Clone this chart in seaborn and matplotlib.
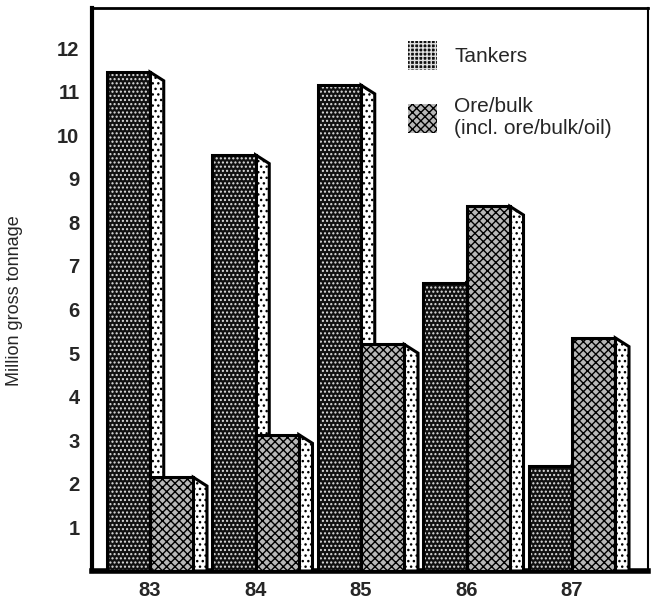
import matplotlib
matplotlib.use("Agg")
import matplotlib.pyplot as plt
import seaborn as sns
import pandas as pd
from matplotlib.patches import Polygon, Rectangle, Patch

years = ["83", "84", "85", "86", "87"]
tankers = [11.45, 9.55, 11.15, 6.6, 2.4]
ore_bulk = [2.15, 3.13, 5.2, 8.37, 5.35]
series_names = ["Tankers", "Ore/bulk\n(incl. ore/bulk/oil)"]
yticks = list(range(1, 13))

sns.set_style("white")
plt.rcParams["font.family"] = ["Liberation Sans", "DejaVu Sans"]
plt.rcParams["hatch.linewidth"] = 1.0

df = pd.DataFrame({
    "year": years * 2,
    "value": tankers + ore_bulk,
    "series": [series_names[0]] * 5 + [series_names[1]] * 5,
})

fig = plt.figure(figsize=(6.51, 6.03), dpi=100)
ax = fig.add_axes([92 / 651, 32 / 603, 556 / 651, 563 / 603])

sns.barplot(data=df, x="year", y="value", hue="series", hue_order=series_names,
            order=years, width=0.82, gap=0, ax=ax, legend=False,
            palette=["#111111", "#b0b0b0"], saturation=1)

styles = {
    0: dict(face="#111111", hatch="....", hcol="#e0e0e0"),
    1: dict(face="#b8b8b8", hatch="xxxx", hcol="black"),
}
side_style = dict(face="#ffffff", hatch="...", hcol="black")

depth = 0.13
drop = 0.2
patches = list(ax.patches)
n = len(years)
for i, p in enumerate(patches):
    s = 0 if i < n else 1
    x0 = p.get_x()
    w = p.get_width()
    h = p.get_height()
    st = styles[s]
    z_front = 3 if s == 0 else 5
    p.set_facecolor(st["face"])
    p.set_edgecolor(st["hcol"])
    p.set_hatch(st["hatch"])
    p.set_linewidth(0)
    p.set_zorder(z_front)
    ax.add_patch(Rectangle((x0, 0), w, h, fill=False, edgecolor="black",
                           linewidth=2.2, zorder=z_front + 0.1))
    x1 = x0 + w
    pts = [(x1, 0), (x1, h), (x1 + depth, h - drop), (x1 + depth, 0)]
    ax.add_patch(Polygon(pts, closed=True, facecolor=side_style["face"],
                         edgecolor=side_style["hcol"], hatch=side_style["hatch"],
                         linewidth=0, zorder=z_front - 1))
    ax.add_patch(Polygon(pts, closed=True, fill=False, edgecolor="black",
                         linewidth=2.2, zorder=z_front - 0.9))

ax.set_xlim(-0.55, 4.72)
ax.set_ylim(0, 12.92)
ax.set_yticks(yticks)
ax.set_yticklabels([str(t) for t in yticks])
ax.set_xlabel("")
ax.set_ylabel("Million gross tonnage", fontsize=13)
ax.yaxis.set_label_coords(-0.124, 0.48)
ax.tick_params(axis="y", direction="in", length=8, width=1.6, labelsize=14.5, pad=9)
ax.tick_params(axis="x", length=0, labelsize=14.5, pad=7)
for lab in ax.get_yticklabels() + ax.get_xticklabels():
    lab.set_fontweight("bold")

for side, lw in [("left", 3), ("bottom", 4), ("top", 2), ("right", 1.5)]:
    ax.spines[side].set_visible(True)
    ax.spines[side].set_linewidth(lw)
    ax.spines[side].set_color("black")

handles = [
    Patch(facecolor="#111111", edgecolor="#e0e0e0", hatch="++++", linewidth=0),
    Patch(facecolor="#b8b8b8", edgecolor="black", hatch="xxxx", linewidth=0),
]
leg = ax.legend(handles, series_names, loc="upper left",
                bbox_to_anchor=(0.535, 0.975), frameon=False, fontsize=15,
                handlelength=1.4, handleheight=1.8, handletextpad=0.8,
                labelspacing=1.3)

fig.savefig("out.png", dpi=100)
